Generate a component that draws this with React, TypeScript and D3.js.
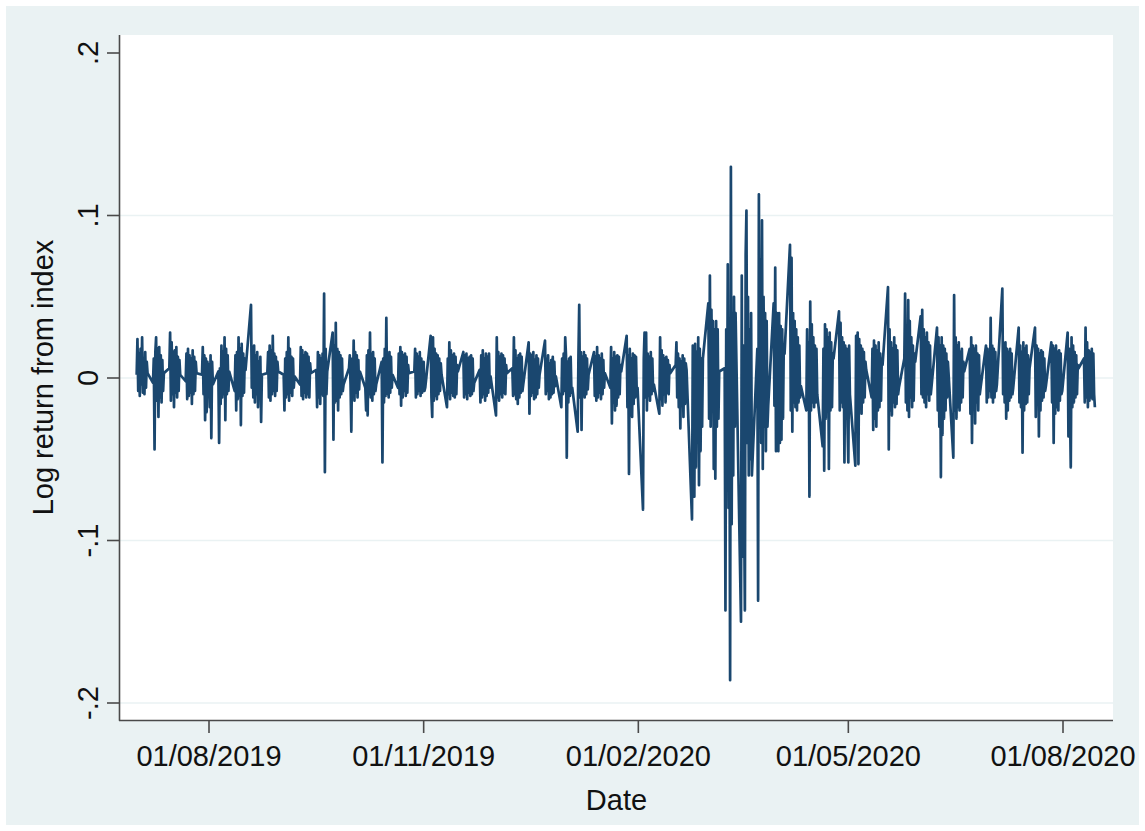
import { useEffect, useRef } from "react"
import * as d3 from "d3"

// log returns, three observations per weekday, month by month
const jul2019 = [
  0.002, 0.024, -0.008, 0.015, -0.011, 0.018, -0.004, 0.025, -0.009, 0.012, -0.01, 0.016, -0.006, 0.01, 0.003,
  -0.003, 0.012, -0.044, 0.016, 0.025, -0.014, 0.018, -0.024, 0.019, -0.012, 0.014, -0.015, 0.011, -0.008, 0.003,
  0.006, 0.028, -0.014, 0.022, -0.01, 0.016, -0.018, 0.017, -0.009, 0.019, -0.012, 0.013, -0.008, 0.011, 0.002,
  -0.002, 0.015, -0.013, 0.018, -0.011, 0.014, -0.009, 0.012, -0.016, 0.017, -0.01, 0.013, -0.008, 0.01, 0.003,
  0.002, 0.019, -0.01, 0.014, -0.026, 0.012, -0.021, 0.01, -0.006,
]
const aug2019 = [
  0.008, -0.018, 0.014, -0.037, 0.01, -0.004,
  0.004, -0.04, 0.006, -0.016, 0.02, -0.012, 0.016, -0.01, 0.025, -0.026, 0.018, -0.01, 0.014, -0.008, 0.004,
  -0.008, 0.014, -0.02, 0.016, -0.013, 0.025, -0.011, 0.018, -0.029, 0.021, -0.011, 0.015, -0.009, 0.012, 0.005,
  0.045, -0.006, 0.017, -0.012, 0.02, -0.015, 0.014, -0.01, 0.016, -0.018, 0.01, -0.012, 0.013, -0.027, 0.002,
  0.003, 0.016, -0.012, 0.02, -0.014, 0.017, -0.01, 0.026, -0.008, 0.015, -0.011, 0.013, -0.008, 0.01, 0.004,
]
const sep2019 = [
  0.002, -0.02, 0.012, -0.012, 0.016, -0.01, 0.025, -0.014, 0.018, -0.009, 0.013, -0.011, 0.012, -0.006, 0.001,
  -0.004, 0.019, -0.011, 0.017, -0.013, 0.014, -0.009, 0.016, -0.012, 0.015, -0.01, 0.013, -0.012, 0.009, 0.003,
  0.005, -0.018, 0.016, -0.012, 0.014, -0.016, 0.012, -0.01, 0.015, -0.011, 0.052, -0.058, 0.018, -0.01, 0.004,
  0.028, -0.038, 0.02, -0.015, 0.034, -0.014, 0.018, -0.02, 0.016, -0.012, 0.014, -0.01, 0.012, -0.008, -0.004,
  0.006, 0.014, -0.004,
]
const oct2019 = [
  -0.033, 0.012, -0.01, 0.023, -0.014, 0.016, -0.009, 0.014, -0.012, 0.011, -0.007, 0.004,
  -0.006, -0.02, 0.014, -0.023, 0.017, -0.01, 0.028, -0.012, 0.015, -0.014, 0.016, -0.01, 0.012, -0.008, -0.004,
  0.01, -0.052, 0.012, -0.015, 0.018, -0.011, 0.037, -0.01, 0.014, -0.012, 0.016, -0.009, 0.013, -0.006, 0.002,
  -0.006, 0.015, -0.01, 0.019, -0.017, 0.016, -0.012, 0.014, -0.008, 0.015, -0.011, 0.013, -0.009, 0.008, 0.003,
  0.004, 0.018, -0.012, 0.015, -0.01, 0.013, -0.008, 0.016, -0.011, 0.012, -0.009, 0.006,
]
const nov2019 = [
  0.01, -0.008, -0.006,
  0.026, -0.012, -0.024, 0.025, -0.014, 0.018, -0.011, 0.015, -0.013, 0.014, -0.01, 0.012, -0.008, 0.009, 0.002,
  -0.018, 0.012, -0.01, 0.022, -0.013, 0.017, -0.009, 0.014, -0.011, 0.015, -0.012, 0.013, -0.01, 0.008, 0.004,
  0.016, -0.012, 0.014, -0.01, 0.015, -0.013, 0.012, -0.009, 0.013, -0.011, 0.014, -0.01, 0.012, -0.008, -0.003,
  0.005, -0.015, 0.014, -0.012, 0.017, -0.01, 0.012, -0.014, 0.015, -0.011, 0.013, -0.009, 0.015, -0.006, 0.001,
]
const dec2019 = [
  -0.023, 0.025, -0.012, 0.016, -0.014, 0.013, -0.01, 0.015, -0.012, 0.014, -0.009, 0.012, -0.01, 0.008, 0.003,
  0.006, -0.011, 0.025, -0.01, 0.017, -0.013, 0.012, -0.016, 0.014, -0.012, 0.015, -0.009, 0.013, -0.008, -0.004,
  0.022, -0.022, 0.015, -0.011, 0.014, -0.009, 0.016, -0.013, 0.011, -0.012, 0.014, -0.01, 0.012, -0.006, 0.002,
  0.023, -0.01, 0.012, -0.008, 0.014, -0.013, 0.009, -0.012, 0.011, -0.01, 0.013, -0.009, 0.01, -0.005, 0.001,
  -0.018, 0.012, -0.01, 0.015, -0.008, 0.025,
]
const jan2020 = [
  0.014, -0.049, 0.01, -0.015, 0.012, -0.011, 0.013, -0.009, -0.006,
  -0.033, 0.014, 0.045, -0.012, 0.016, -0.032, 0.013, -0.01, 0.016, -0.012, 0.014, -0.01, 0.012, -0.007, 0.002,
  0.016, -0.011, 0.013, -0.014, 0.019, -0.012, 0.014, -0.009, 0.012, -0.013, 0.015, -0.01, 0.011, -0.006, 0.003,
  -0.006, 0.019, -0.028, 0.012, -0.015, 0.016, -0.02, 0.013, -0.017, 0.014, -0.012, 0.013, -0.01, 0.008, 0.004,
  0.026, -0.018, 0.014, -0.059, 0.018, -0.02, 0.012, -0.024, 0.015, -0.016, 0.014, -0.012, 0.013, -0.01, -0.006,
]
const feb2020 = [
  -0.081, 0.012, 0.028, -0.012, 0.028, -0.02, 0.015, -0.011, 0.013, -0.014, 0.016, -0.01, 0.012, -0.008, -0.004,
  -0.022, 0.025, -0.013, 0.017, -0.017, 0.014, -0.01, 0.012, -0.015, 0.013, -0.009, 0.011, -0.01, 0.008, 0.003,
  0.008, 0.022, -0.012, 0.015, -0.018, 0.012, -0.031, 0.01, -0.015, 0.014, -0.024, 0.012, -0.016, 0.009, 0.005,
  -0.087, 0.02, -0.03, -0.073, 0.021, -0.055, 0.016, -0.035, 0.025, -0.066, 0.018, -0.045, 0.012, -0.03, 0.012,
]
const mar2020 = [
  0.046, -0.025, 0.063, -0.03, 0.042, -0.02, 0.035, -0.056, 0.03, -0.062, 0.035, -0.03, 0.03, -0.025, 0.004,
  0.006, -0.143, 0.03, -0.05, 0.07, -0.08, 0.02, -0.186, 0.13, -0.09, 0.04, -0.06, 0.05, -0.03, 0.04,
  -0.15, 0.063, -0.11, 0.02, -0.08, -0.143, 0.076, 0.103, -0.04, 0.05, -0.06, 0.03, -0.05, 0.04, -0.06,
  0.018, -0.137, 0.113, -0.03, 0.073, -0.04, 0.097, -0.056, 0.05, -0.03, 0.04, -0.045, 0.035, -0.03, -0.017,
  0.046, -0.017, 0.068, -0.045, 0.04, -0.03,
]
const apr2020 = [
  -0.045, 0.04, -0.04, 0.032, -0.038, 0.03, -0.025, 0.02, 0.015,
  0.082, -0.02, 0.074, -0.033, 0.04, -0.015, 0.035, -0.018, 0.03, -0.02, 0.025, -0.015, 0.02, -0.012, -0.005,
  -0.02, 0.03, -0.012, 0.022, -0.073, 0.047, -0.02, 0.033, -0.015, 0.025, -0.018, 0.02, -0.015, 0.018, -0.01,
  -0.042, 0.018, -0.057, 0.033, -0.025, 0.03, -0.02, 0.025, -0.056, 0.028, -0.02, 0.022, -0.018, 0.015, 0.012,
  0.041, -0.02, 0.034, -0.015, 0.025, -0.018, 0.022, -0.052, 0.02, -0.025, 0.018, -0.03,
]
const may2020 = [
  -0.052, 0.02, -0.01,
  -0.054, 0.026, -0.02, 0.028, -0.053, 0.024, -0.018, 0.02, -0.022, 0.018, -0.015, 0.016, -0.012, 0.01, 0.005,
  -0.012, 0.018, -0.032, 0.023, -0.025, 0.02, -0.03, 0.017, -0.02, 0.022, -0.018, 0.015, -0.014, 0.012, 0.008,
  0.056, -0.044, 0.03, -0.02, 0.022, -0.023, 0.018, -0.015, 0.025, -0.018, 0.02, -0.016, 0.017, -0.01, -0.006,
  0.012, 0.052, -0.015, 0.03, -0.02, 0.048, -0.024, 0.035, -0.012, 0.025, -0.018, 0.02, -0.014, 0.015, 0.01,
]
const jun2020 = [
  0.038, -0.01, 0.042, -0.012, 0.03, -0.015, 0.025, -0.018, 0.028, -0.01, 0.022, -0.014, 0.02, -0.01, -0.005,
  0.031, -0.02, 0.025, -0.03, 0.02, -0.061, 0.025, -0.035, 0.02, -0.025, 0.018, -0.02, 0.015, -0.012, 0.01,
  -0.049, 0.051, -0.02, 0.025, -0.025, 0.02, -0.018, 0.022, -0.02, 0.016, -0.015, 0.018, -0.012, 0.01, 0.004,
  0.018, -0.022, 0.025, -0.04, 0.02, -0.018, 0.018, -0.028, 0.02, -0.015, 0.015, -0.02, 0.014, -0.01, -0.006,
  0.02, -0.015, 0.018, -0.012, 0.014, -0.008,
]
const jul2020 = [
  0.037, -0.012, 0.02, -0.015, 0.018, -0.012, 0.016, -0.008, -0.004,
  0.055, -0.01, 0.02, -0.015, 0.022, -0.025, 0.018, -0.02, 0.016, -0.014, 0.018, -0.012, 0.015, -0.01, -0.006,
  0.031, -0.015, 0.02, -0.018, 0.016, -0.046, 0.022, -0.02, 0.018, -0.016, 0.02, -0.015, 0.014, -0.01, 0.006,
  0.031, -0.024, 0.02, -0.015, 0.018, -0.036, 0.015, -0.02, 0.017, -0.014, 0.016, -0.012, 0.012, -0.008, -0.005,
  0.022, -0.015, 0.02, -0.04, 0.018, -0.022, 0.02, -0.018, 0.016, -0.02, 0.017, -0.014, 0.015, -0.01, -0.008,
]
const aug2020 = [
  0.028, -0.036, 0.018, -0.02, -0.055, 0.025, -0.018, 0.02, -0.015, 0.016, -0.012, 0.014, -0.01, 0.008, 0.006,
  0.012, -0.015, 0.031, -0.012, 0.022, -0.018, 0.017, -0.014, 0.016, -0.012, 0.018, -0.013, 0.015, -0.01, -0.018,
]

const months: [number, number, number[]][] = [
  [2019, 6, jul2019], [2019, 7, aug2019], [2019, 8, sep2019], [2019, 9, oct2019],
  [2019, 10, nov2019], [2019, 11, dec2019], [2020, 0, jan2020], [2020, 1, feb2020],
  [2020, 2, mar2020], [2020, 3, apr2020], [2020, 4, may2020], [2020, 5, jun2020],
  [2020, 6, jul2020], [2020, 7, aug2020],
]
const perDay = 3

const yTicks = [-0.2, -0.1, 0, 0.1, 0.2]
const yTickLabels = ["-.2", "-.1", "0", ".1", ".2"]
const xTicks = ["2019-08-01", "2019-11-01", "2020-02-01", "2020-05-01", "2020-08-01"]
const xTickLabels = ["01/08/2019", "01/11/2019", "01/02/2020", "01/05/2020", "01/08/2020"]

type Pt = { t: Date; v: number }

const W = 1145
const H = 831
const FONT = "'Liberation Sans', Arial, sans-serif"

export default function App() {
  const svgRef = useRef<SVGSVGElement>(null)

  useEffect(() => {
    const svgEl = svgRef.current
    if (!svgEl) return
    const svg = d3.select(svgEl)
    svg.selectAll("*").remove()

    // weekdays only, perDay observations a day
    const data: Pt[] = months.flatMap(([yr, mo, vals]) => {
      const out: Pt[] = []
      let day = 1
      let i = 0
      while (i < vals.length && day < 40) {
        const wd = new Date(Date.UTC(yr, mo, day)).getUTCDay()
        if (wd !== 0 && wd !== 6) {
          for (let k = 0; k < perDay && i < vals.length; k++, i++) {
            out.push({ t: new Date(Date.UTC(yr, mo, day, (k * 24) / perDay)), v: vals[i] })
          }
        }
        day++
      }
      return out
    })

    const plot = { left: 120, right: 1113, top: 35, bottom: 720 }

    const x = d3.scaleUtc()
      .domain([new Date(Date.UTC(2019, 7, 1)), new Date(Date.UTC(2020, 7, 1))])
      .range([209, 1063])
    const y = d3.scaleLinear().domain([-0.2, 0.2]).range([703, 53])

    svg.append("rect").attr("x", 6).attr("y", 6).attr("width", 1133).attr("height", 819)
      .attr("fill", "#eaf2f3")
    svg.append("rect").attr("x", plot.left).attr("y", plot.top)
      .attr("width", plot.right - plot.left).attr("height", plot.bottom - plot.top)
      .attr("fill", "#ffffff")

    // grid (none at the top tick)
    svg.append("g").selectAll("line").data(yTicks.filter(t => t < 0.15)).join("line")
      .attr("x1", plot.left).attr("x2", plot.right)
      .attr("y1", d => y(d)).attr("y2", d => y(d))
      .attr("stroke", "#eaf2f3").attr("stroke-width", 1.6)

    const line = d3.line<Pt>().x(d => x(d.t)).y(d => y(d.v))
    svg.append("path").datum(data)
      .attr("d", line)
      .attr("fill", "none")
      .attr("stroke", "#1a476f")
      .attr("stroke-width", 2.7)
      .attr("stroke-linejoin", "round")

    const axisColor = "#4a4a4a"
    // y axis
    svg.append("line").attr("x1", 119.5).attr("x2", 119.5).attr("y1", plot.top).attr("y2", plot.bottom + 0.8)
      .attr("stroke", axisColor).attr("stroke-width", 1.6)
    const yg = svg.append("g")
    yg.selectAll("line").data(yTicks).join("line")
      .attr("x1", 107).attr("x2", 119.5)
      .attr("y1", d => y(d)).attr("y2", d => y(d))
      .attr("stroke", axisColor).attr("stroke-width", 1.6)
    yg.selectAll("text").data(yTicks).join("text")
      .attr("transform", d => `translate(98,${y(d)}) rotate(-90)`)
      .attr("text-anchor", "middle")
      .attr("font-family", FONT).attr("font-size", 29).attr("fill", "#111")
      .text((_, i) => yTickLabels[i])

    // x axis
    svg.append("line").attr("x1", 119).attr("x2", plot.right).attr("y1", 720.5).attr("y2", 720.5)
      .attr("stroke", axisColor).attr("stroke-width", 1.6)
    const xDates = xTicks.map(s => new Date(s + "T00:00:00Z"))
    const xg = svg.append("g")
    xg.selectAll("line").data(xDates).join("line")
      .attr("x1", d => x(d)).attr("x2", d => x(d))
      .attr("y1", 720.5).attr("y2", 733)
      .attr("stroke", axisColor).attr("stroke-width", 1.6)
    xg.selectAll("text").data(xDates).join("text")
      .attr("x", d => x(d)).attr("y", 766)
      .attr("text-anchor", "middle")
      .attr("font-family", FONT).attr("font-size", 29).attr("fill", "#111")
      .text((_, i) => xTickLabels[i])

    svg.append("text").attr("x", (plot.left + plot.right) / 2).attr("y", 810)
      .attr("text-anchor", "middle")
      .attr("font-family", FONT).attr("font-size", 29).attr("fill", "#111")
      .text("Date")
    svg.append("text")
      .attr("transform", `translate(53,${(plot.top + plot.bottom) / 2}) rotate(-90)`)
      .attr("text-anchor", "middle")
      .attr("font-family", FONT).attr("font-size", 29).attr("fill", "#111")
      .text("Log return from index")
  }, [])

  return (
    <svg
      ref={svgRef}
      width={W}
      height={H}
      viewBox={`0 0 ${W} ${H}`}
      style={{ position: "absolute", left: 0, top: 0, background: "#ffffff" }}
      role="img"
      aria-label="Log return from index over time"
    />
  )
}
